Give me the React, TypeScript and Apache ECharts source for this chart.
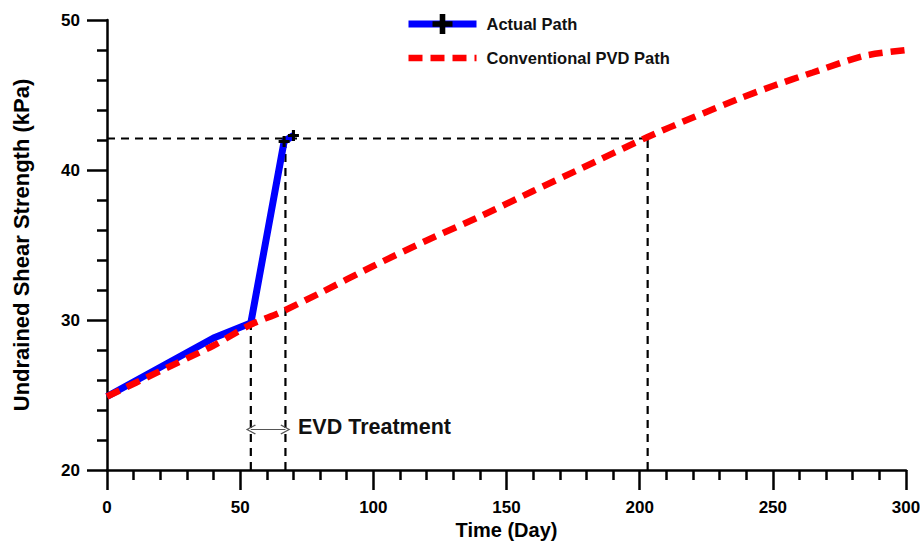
import React, { useEffect, useRef } from "react";
import * as echarts from "echarts";

const actualDays = [0, 40, 54, 66.5, 70];
const actualStrength = [24.9, 28.8, 29.8, 41.9, 42.3];
const actualMarked = [false, false, false, true, true];

const pvdDays = [0, 20, 40, 54, 65, 80, 100, 120, 140, 160, 178, 203, 220, 238, 250, 265, 284, 300];
const pvdStrength = [24.9, 26.6, 28.3, 29.7, 30.5, 31.8, 33.6, 35.3, 36.9, 38.6, 40.1, 42.2, 43.5, 44.8, 45.6, 46.5, 47.6, 48.0];

const evdStartDay = 54;
const evdEndDay = 67;
const evdStartStrength = 29.8;
const targetStrength = 42.1;
const pvdTargetDay = 203;
const arrowStrength = 22.7;

const xTicks = [0, 50, 100, 150, 200, 250, 300];
const yTicks = [20, 30, 40, 50];

const FONT = "Liberation Sans, Arial, sans-serif";
const PLUS = "path://M3.6,0H6.4V3.6H10V6.4H6.4V10H3.6V6.4H0V3.6H3.6Z";
const CHEVRON = "path://M0,9L5,0L10,9L9,9.8L5,2.4L1,9.8Z";

export default function App() {
  const ref = useRef<HTMLDivElement>(null);
  useEffect(() => {
    if (!ref.current) return;
    const chart = echarts.init(ref.current, undefined, { renderer: "svg" });
    const guide = (pts: number[][]) => ({
      type: "line",
      data: pts,
      symbol: "none",
      silent: true,
      lineStyle: { color: "#000", width: 2.2, type: [8, 6] },
      z: 1,
    });
    chart.setOption({
      animation: false,
      backgroundColor: "#fff",
      textStyle: { fontFamily: FONT },
      grid: { left: 107, right: 14, top: 20, bottom: 74, containLabel: false, outerBoundsMode: "none" },
      legend: {
        orient: "vertical",
        left: 400,
        top: 9,
        itemWidth: 68,
        itemHeight: 25,
        itemGap: 14,
        data: [
          { name: "Actual Path", lineStyle: { width: 7, color: "#0000ff" } },
          { name: "Conventional PVD Path", lineStyle: { width: 6.5, color: "#ff0000", type: [14, 8] }, itemStyle: { opacity: 0 } },
        ],
        textStyle: { fontFamily: FONT, fontSize: 16.5, fontWeight: "bold", color: "#111", padding: [0, 0, 0, 5] },
      },
      xAxis: {
        type: "value",
        min: xTicks[0],
        max: xTicks[xTicks.length - 1],
        interval: 50,
        name: "Time (Day)",
        nameLocation: "middle",
        nameGap: 50,
        nameMoveOverlap: false,
        nameTextStyle: { fontFamily: FONT, fontSize: 20, fontWeight: "bold", color: "#000" },
        axisLine: { lineStyle: { color: "#000", width: 2.5 } },
        axisTick: { inside: false, length: 20, lineStyle: { color: "#000", width: 2.5 } },
        minorTick: { show: true, splitNumber: 5, length: 10, lineStyle: { color: "#000", width: 2.5 } },
        axisLabel: { margin: 29, fontFamily: FONT, fontSize: 17, fontWeight: "bold", color: "#000" },
        splitLine: { show: false },
      },
      yAxis: {
        type: "value",
        min: yTicks[0],
        max: yTicks[yTicks.length - 1],
        interval: 10,
        name: "Undrained Shear Strength (kPa)",
        nameLocation: "middle",
        nameGap: 75,
        nameMoveOverlap: false,
        nameTextStyle: { fontFamily: FONT, fontSize: 22, fontWeight: "bold", color: "#000" },
        axisLine: { show: true, lineStyle: { color: "#000", width: 2.5 } },
        axisTick: { show: true, inside: false, length: 20, lineStyle: { color: "#000", width: 2.5 } },
        minorTick: { show: true, splitNumber: 5, length: 10, lineStyle: { color: "#000", width: 2.5 } },
        axisLabel: { margin: 27, fontFamily: FONT, fontSize: 17, fontWeight: "bold", color: "#000" },
        splitLine: { show: false },
      },
      graphic: [
        {
          type: "text",
          left: 298,
          top: 416,
          style: { text: "EVD Treatment", fontFamily: FONT, fontSize: 21.5, fontWeight: "bold", fill: "#111" },
        },
      ],
      series: [
        guide([[xTicks[0], targetStrength], [pvdTargetDay, targetStrength]]),
        guide([[evdStartDay, yTicks[0]], [evdStartDay, evdStartStrength]]),
        guide([[evdEndDay, yTicks[0]], [evdEndDay, targetStrength]]),
        {
          ...guide([[pvdTargetDay, yTicks[0]], [pvdTargetDay, targetStrength]]),
          markLine: {
            silent: true,
            symbol: [CHEVRON, CHEVRON],
            symbolSize: [10, 10],
            label: { show: false },
            lineStyle: { color: "#555", width: 1, type: "solid" },
            data: [[{ coord: [evdStartDay, arrowStrength] }, { coord: [evdEndDay, arrowStrength] }]],
          },
        },
        {
          name: "Actual Path",
          type: "line",
          data: actualDays.map((d, i) =>
            actualMarked[i] ? [d, actualStrength[i]] : { value: [d, actualStrength[i]], symbol: "none" }
          ),
          symbol: PLUS,
          symbolSize: 11,
          itemStyle: { color: "#000" },
          lineStyle: { color: "#0000ff", width: 7 },
          z: 3,
        },
        {
          name: "Conventional PVD Path",
          type: "line",
          data: pvdDays.map((d, i) => [d, pvdStrength[i]]),
          symbol: "none",
          smooth: 0.25,
          itemStyle: { color: "#ff0000" },
          lineStyle: { color: "#ff0000", width: 6.5, type: [14, 8] },
          z: 4,
        },
      ],
    });
    return () => chart.dispose();
  }, []);
  return <div ref={ref} style={{ width: 920, height: 544, position: "absolute", left: 0, top: 0 }} />;
}
